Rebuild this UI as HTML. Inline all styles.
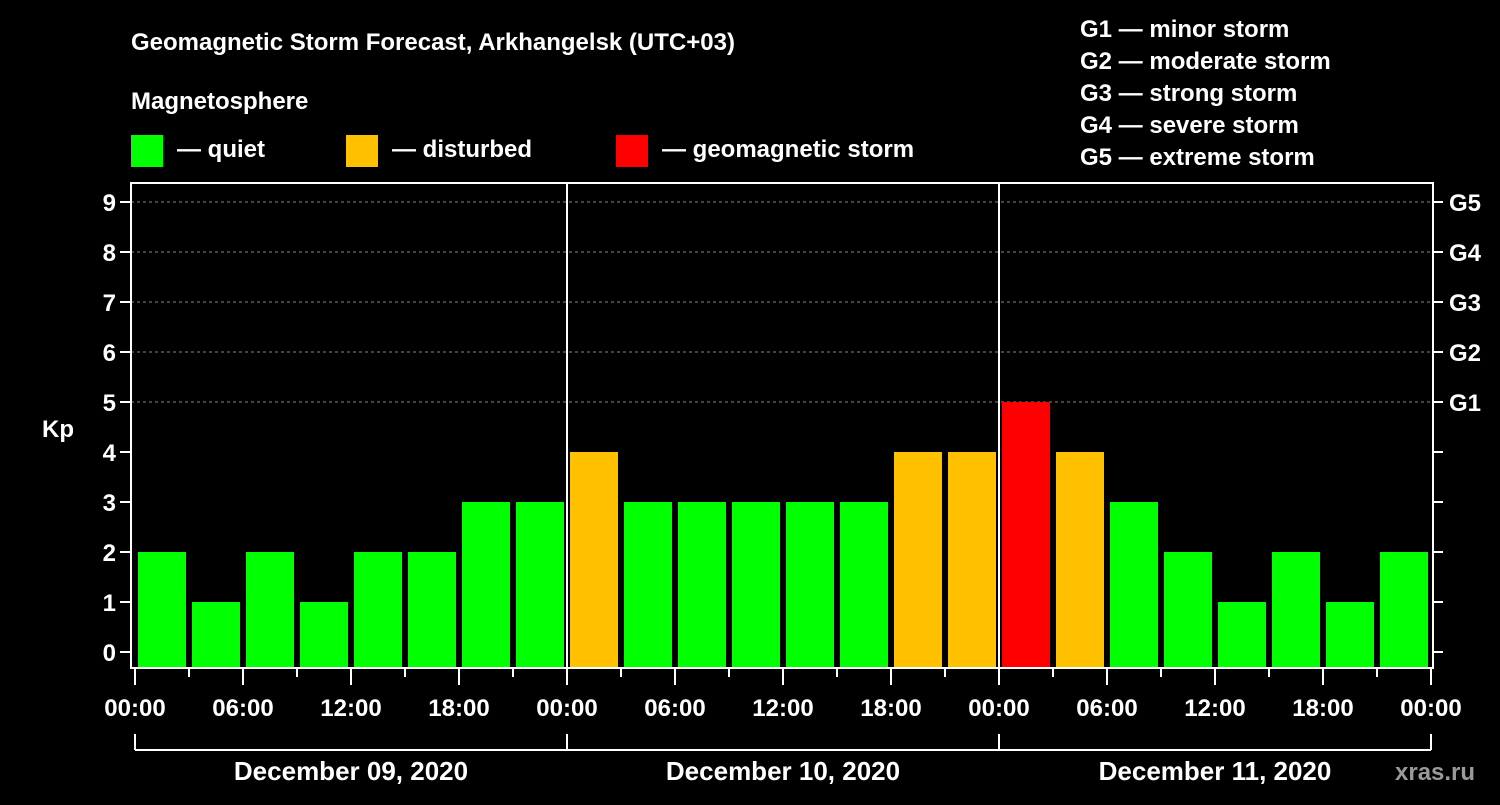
<!DOCTYPE html>
<html><head><meta charset="utf-8"><style>
body{margin:0;background:#000;width:1500px;height:800px;overflow:hidden;font-family:"Liberation Sans",sans-serif}
svg text{font-family:"Liberation Sans",sans-serif;font-weight:bold;fill:#fff}
</style></head><body>
<svg id="c" width="1500" height="800">
<text x="131" y="50" font-size="24">Geomagnetic Storm Forecast, Arkhangelsk (UTC+03)</text>
<text x="131" y="109" font-size="24">Magnetosphere</text>
<g>
<rect x="131" y="135" width="32" height="32" fill="#00ff00"/>
<text x="177" y="157" font-size="24">— quiet</text>
<rect x="346" y="135" width="32" height="32" fill="#ffc000"/>
<text x="392" y="157" font-size="24">— disturbed</text>
<rect x="616" y="135" width="32" height="32" fill="#ff0000"/>
<text x="662" y="157" font-size="24">— geomagnetic storm</text>
</g>
<g font-size="24">
<text x="1080" y="37">G1 — minor storm</text>
<text x="1080" y="69">G2 — moderate storm</text>
<text x="1080" y="101">G3 — strong storm</text>
<text x="1080" y="133">G4 — severe storm</text>
<text x="1080" y="165">G5 — extreme storm</text>
</g>
<text x="42" y="437" font-size="24">Kp</text>
<text x="1395" y="780" font-size="24" fill="#888" style="fill:#9a9a9a">xras.ru</text>
<g id="plot"></g>
</svg>
<script>
const kpValues=[2,1,2,1,2,2,3,3,4,3,3,3,3,3,4,4,5,4,3,2,1,2,1,2];
const dayLabels=["December 09, 2020","December 10, 2020","December 11, 2020"];
const hourLabels=["00:00","06:00","12:00","18:00"];
const gLabels=["G1","G2","G3","G4","G5"];
const ns="http://www.w3.org/2000/svg";
const g=document.getElementById('plot');
const X0=135,BW=54,Y0=652,UY=50,TOP=183,BOT=667,XR=X0+BW*kpValues.length;
const xs=i=>X0+i*BW, ys=v=>Y0-v*UY;
function el(t,a){const e=document.createElementNS(ns,t);for(const k in a)e.setAttribute(k,a[k]);g.appendChild(e);return e;}
for(let v=5;v<=9;v++){const l=el('line',{x1:131,x2:1432,y1:ys(v),y2:ys(v),stroke:'#888','stroke-dasharray':'3,3','stroke-width':1});

}
kpValues.forEach((v,i)=>{const c=v>=5?'#ff0000':v==4?'#ffc000':'#00ff00';
const r=el('rect',{x:xs(i)+3,y:ys(v),width:48,height:BOT-ys(v),fill:c});

});
const days=dayLabels.length;
for(let d=1;d<days;d++){const l=el('line',{x1:xs(d*8),x2:xs(d*8),y1:TOP,y2:BOT,stroke:'#fff','stroke-width':2});

}
const fr=el('rect',{x:131,y:TOP,width:1302,height:BOT-TOP+1,fill:'none',stroke:'#fff','stroke-width':2});


for(let v=0;v<=9;v++){
el('line',{x1:120,x2:131,y1:ys(v),y2:ys(v),stroke:'#fff','stroke-width':2});
el('line',{x1:1433,x2:1443,y1:ys(v),y2:ys(v),stroke:'#fff','stroke-width':2});
const t=el('text',{x:116,y:ys(v)+9,'font-size':24,'text-anchor':'end'});t.textContent=v;

}
gLabels.forEach((s,i)=>{const t=el('text',{x:1449,y:ys(5+i)+9,'font-size':24});t.textContent=s;

});
for(let i=0;i<=kpValues.length;i++){const maj=i%2==0;
el('line',{x1:xs(i),x2:xs(i),y1:669,y2:maj?685:677,stroke:'#fff','stroke-width':2});
if(maj){const t=el('text',{x:xs(i),y:716,'font-size':24,'text-anchor':'middle'});t.textContent=hourLabels[(i/2)%4];

}}
el('line',{x1:X0,x2:XR,y1:750,y2:750,stroke:'#fff','stroke-width':2});
for(let d=0;d<=days;d++)el('line',{x1:xs(d*8),x2:xs(d*8),y1:734,y2:750,stroke:'#fff','stroke-width':2});
dayLabels.forEach((s,d)=>{const t=el('text',{x:(xs(d*8)+xs(d*8+8))/2,y:780,'font-size':26,'text-anchor':'middle'});t.textContent=s;

});
</script>
</body></html>
